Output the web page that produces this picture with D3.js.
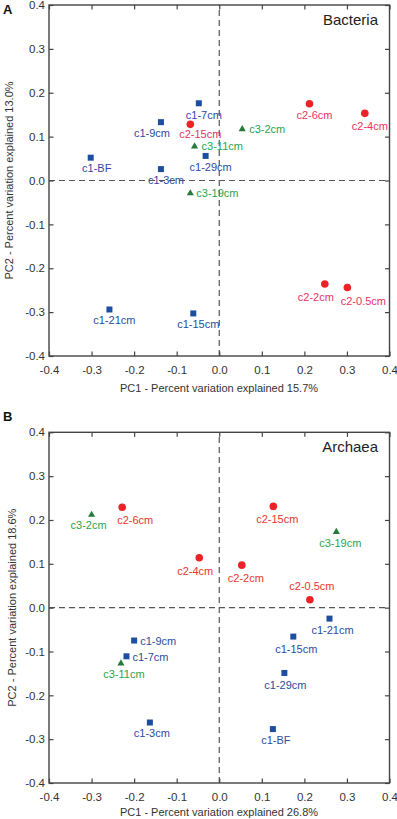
<!DOCTYPE html>
<html>
<head>
<meta charset="utf-8">
<script src="https://cdn.jsdelivr.net/npm/d3@7"></script>
<style>
  body { margin: 0; background: #fff; }
  svg { display: block; font-family: "Liberation Sans", Arial, sans-serif; }
</style>
</head>
<body>
<svg id="chart" width="397" height="819"></svg>
<script>
// ---- data ----
const bacteriaNames = ["c1-BF", "c1-9cm", "c1-3cm", "c1-7cm", "c2-15cm", "c3-11cm", "c1-29cm", "c3-19cm",
                       "c3-2cm", "c2-6cm", "c2-4cm", "c1-21cm", "c1-15cm", "c2-2cm", "c2-0.5cm"];
const bacteriaPC1 = [-0.302, -0.137, -0.137, -0.048, -0.068, -0.058, -0.032, -0.068,
                     0.054, 0.212, 0.342, -0.258, -0.061, 0.248, 0.301];
const bacteriaPC2 = [0.052, 0.133, 0.026, 0.176, 0.128, 0.079, 0.056, -0.028,
                     0.118, 0.175, 0.153, -0.294, -0.303, -0.236, -0.244];

const archaeaNames = ["c3-2cm", "c2-6cm", "c2-4cm", "c2-15cm", "c3-19cm", "c2-2cm", "c2-0.5cm", "c1-9cm",
                      "c1-7cm", "c3-11cm", "c1-3cm", "c1-21cm", "c1-15cm", "c1-29cm", "c1-BF"];
const archaeaPC1 = [-0.300, -0.228, -0.047, 0.127, 0.275, 0.053, 0.213, -0.200,
                    -0.218, -0.231, -0.163, 0.259, 0.174, 0.153, 0.126];
const archaeaPC2 = [0.213, 0.229, 0.114, 0.231, 0.174, 0.097, 0.018, -0.075,
                    -0.111, -0.126, -0.262, -0.025, -0.066, -0.149, -0.277];

const tickValues = [-0.4, -0.3, -0.2, -0.1, 0.0, 0.1, 0.2, 0.3, 0.4];

// ---- layout: label offsets (dx, dy, anchor) per point ----
const bacteriaLabelPos = [[6,10,"middle"],[-9,11,"middle"],[5,11,"middle"],[5,12,"middle"],[10,10,"middle"],
  [7,0,"start"],[5,11,"middle"],[6,0.6,"start"],[7,0,"start"],[5,11.6,"middle"],[5,13,"middle"],
  [5,11,"middle"],[5,11,"middle"],[-9,13,"middle"],[16,13,"middle"]];
const archaeaLabelPos = [[-3,10.4,"middle"],[13,12.7,"middle"],[-4,13.7,"middle"],[4,12.4,"middle"],
  [4,12,"middle"],[4,13,"middle"],[2,-13.3,"middle"],[6,0.7,"start"],[6,0.7,"start"],[3,11.4,"middle"],
  [2,10.7,"middle"],[3,11.7,"middle"],[3,12.4,"middle"],[1,12.3,"middle"],[3,11.3,"middle"]];

const markFill = { c1: "#1d4fa1", c2: "#ec2227", c3: "#267a3a" };

const svg = d3.select("#chart");
const fmt = d => d3.format(".1f")(d).replace("\u2212", "-");

function drawPanel(p) {
  const x = d3.scaleLinear().domain([-0.4, 0.4]).range([49, 389.5]);
  const y = d3.scaleLinear().domain([-0.4, 0.4]).range([p.bottom, p.top]);
  const g = svg.append("g");

  // zero lines
  g.append("line").attr("x1", x(-0.4)).attr("x2", x(0.4)).attr("y1", y(0)).attr("y2", y(0))
    .attr("stroke", "#555").attr("stroke-width", 1.2).attr("stroke-dasharray", "6,4");
  g.append("line").attr("x1", x(0)).attr("x2", x(0)).attr("y1", y(-0.4)).attr("y2", y(0.4))
    .attr("stroke", "#555").attr("stroke-width", 1.2).attr("stroke-dasharray", "6,4");

  // axes with inward ticks
  const axes = [
    [d3.axisBottom(x).tickFormat(fmt).tickPadding(9.5), `translate(0,${y(-0.4)})`],
    [d3.axisTop(x).tickFormat(""), `translate(0,${y(0.4)})`],
    [d3.axisLeft(y).tickFormat(fmt).tickPadding(4), `translate(${x(-0.4)},0)`],
    [d3.axisRight(y).tickFormat(""), `translate(${x(0.4)},0)`]
  ];
  axes.forEach(([ax, tr]) => {
    const a = g.append("g").attr("transform", tr)
      .call(ax.tickValues(tickValues).tickSizeInner(-4.5).tickSizeOuter(0));
    a.select(".domain").remove();
    a.selectAll(".tick line").attr("stroke", "#444").attr("stroke-width", 1.2);
    a.selectAll("text").attr("fill", "#333").style("font-size", "11.5px");
  });

  g.append("rect").attr("x", x(-0.4)).attr("y", y(0.4))
    .attr("width", x(0.4) - x(-0.4)).attr("height", y(-0.4) - y(0.4))
    .attr("fill", "none").attr("stroke", "#444").attr("stroke-width", 1.4);

  // points
  const data = p.names.map((n, i) => ({ name: n, pc1: p.pc1[i], pc2: p.pc2[i], group: n.slice(0, 2), lab: p.labelPos[i] }));
  const tri = d3.symbol().type(d3.symbolTriangle).size(22);
  data.forEach(d => {
    const cx = x(d.pc1), cy = y(d.pc2);
    if (d.group === "c1") {
      g.append("rect").attr("x", cx - 3).attr("y", cy - 3).attr("width", 6).attr("height", 6).attr("fill", markFill.c1);
    } else if (d.group === "c2") {
      g.append("circle").attr("cx", cx).attr("cy", cy).attr("r", 3.8).attr("fill", markFill.c2);
    } else {
      g.append("path").attr("d", tri).attr("transform", `translate(${cx},${cy + 0.5})`).attr("fill", markFill.c3);
    }
    g.append("text").attr("x", cx + d.lab[0]).attr("y", cy + d.lab[1])
      .attr("text-anchor", d.lab[2]).attr("dominant-baseline", "central")
      .attr("fill", p.labelFill[d.group]).style("font-size", "11px").text(d.name);
  });

  // titles
  g.append("text").attr("x", 378).attr("y", y(0.4) + 14).attr("text-anchor", "end")
    .attr("dominant-baseline", "central").attr("fill", "#222").style("font-size", "15px").text(p.title);
  g.append("text").attr("x", 219).attr("y", p.xTitleY).attr("text-anchor", "middle")
    .attr("dominant-baseline", "central").attr("fill", "#333").style("font-size", "11px").text(p.xTitle);
  g.append("text").attr("transform", `translate(${p.yTitleX},${y(0)}) rotate(-90)`).attr("text-anchor", "middle")
    .attr("dominant-baseline", "central").attr("fill", "#333").style("font-size", "11px").text(p.yTitle);
  g.append("text").attr("x", 3).attr("y", p.letterY).attr("dominant-baseline", "central")
    .attr("fill", "#111").style("font-size", "13px").style("font-weight", "bold").text(p.letter);
}

drawPanel({
  names: bacteriaNames, pc1: bacteriaPC1, pc2: bacteriaPC2, labelPos: bacteriaLabelPos,
  top: 5, bottom: 356, title: "Bacteria", letter: "A", letterY: 9,
  xTitle: "PC1 - Percent variation explained 15.7%", xTitleY: 388,
  yTitle: "PC2 - Percent variation explained 13.0%", yTitleX: 9,
  labelFill: { c1: "#2a4c9f", c2: "#e8335f", c3: "#2aa44b" }
});

drawPanel({
  names: archaeaNames, pc1: archaeaPC1, pc2: archaeaPC2, labelPos: archaeaLabelPos,
  top: 432.3, bottom: 783, title: "Archaea", letter: "B", letterY: 416,
  xTitle: "PC1 - Percent variation explained 26.8%", xTitleY: 812,
  yTitle: "PC2 - Percent variation explained 18.6%", yTitleX: 12,
  labelFill: { c1: "#2a4c9f", c2: "#e8352e", c3: "#2aa44b" }
});
</script>
</body>
</html>
